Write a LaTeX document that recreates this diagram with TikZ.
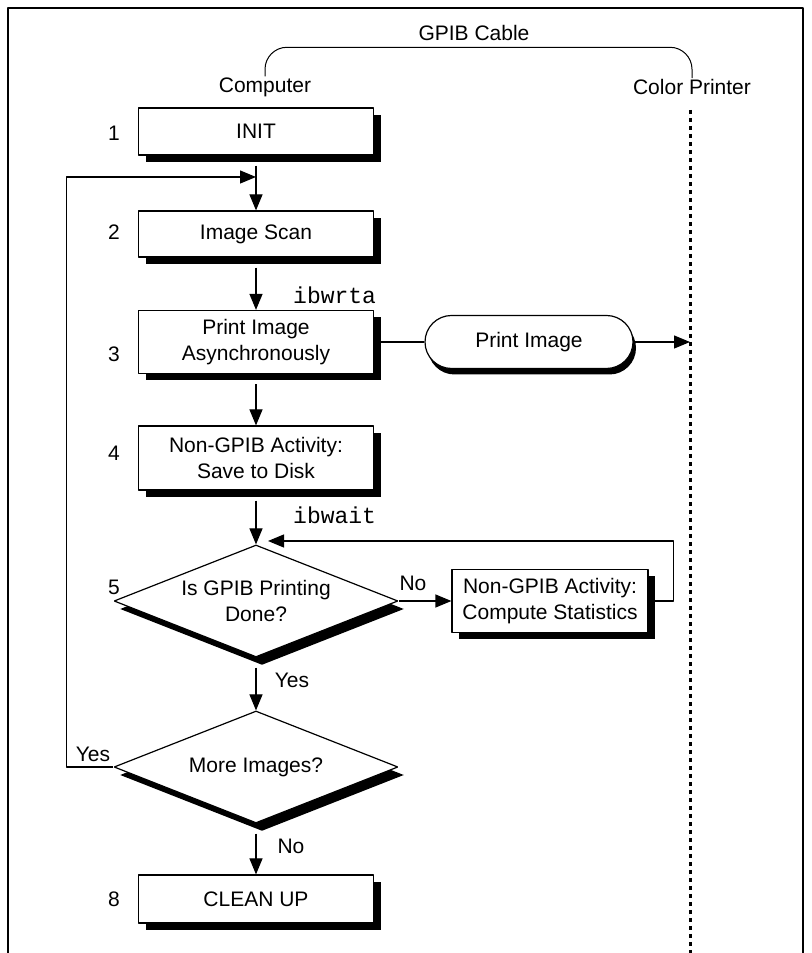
\documentclass[tikz,border=0pt]{standalone}
\usepackage{fontspec}
\setmainfont{Liberation Sans}
\setmonofont{Liberation Mono}
\usetikzlibrary{arrows.meta,shapes.geometric,shapes.misc,shadows}

\tikzset{
  stepbox/.style={draw, fill=white, line width=1.2bp, minimum width=235bp, inner sep=0pt, align=center,
    font=\fontsize{21bp}{26bp}\selectfont,
    drop shadow={shadow xshift=7bp, shadow yshift=-7bp, fill=black, opacity=1}},
  termbox/.style={rounded rectangle, draw, fill=white, line width=1.2bp, minimum width=208bp, minimum height=53bp,
    inner sep=0pt, font=\fontsize{21bp}{26bp}\selectfont,
    drop shadow={shadow xshift=3bp, shadow yshift=-6bp, fill=black, opacity=1}},
  testbox/.style={diamond, aspect=2.54, draw, fill=white, line width=1.2bp, minimum width=284bp, minimum height=112bp,
    inner sep=0pt, align=center, font=\fontsize{21bp}{26bp}\selectfont,
    drop shadow={shadow xshift=6bp, shadow yshift=-8bp, fill=black, opacity=1}},
  tag/.style={font=\fontsize{21bp}{26bp}\selectfont, inner sep=1bp},
  call/.style={font=\fontsize{23bp}{26bp}\ttfamily, anchor=west, inner sep=0pt},
  flow/.style={->, line width=1.2bp},
}

\begin{document}
\begin{tikzpicture}[>={Triangle[length=16bp,width=13bp]},line join=bevel,]
  \useasboundingbox (0bp,0bp) rectangle (812bp,953bp);
  \draw [line width=2bp] (8bp,0bp) -- (8bp,945bp) -- (803bp,945bp) -- (803bp,0bp);
  % Node: cable
  \node (cable) [tag] at (474bp,920bp) {GPIB Cable};
  \node (computer) [tag] at (265bp,866bp) {Computer};
  \node (printer) [tag] at (692bp,866bp) {Color Printer};
  \coordinate (ptop) at (690bp,843bp);
  \coordinate (pbot) at (690bp,0bp);
  \coordinate (merge) at (256bp,776bp);
  \coordinate (back) at (268bp,412bp);
  % Node: init
  \node (init) [stepbox, minimum height=47bp] at (256bp,821.5bp) {INIT};
  \node (n1) [tag] at (114bp,820bp) {1};
  % Node: scan
  \node (scan) [stepbox, minimum height=46bp] at (256bp,719bp) {Image Scan};
  \node (n2) [tag] at (114bp,721bp) {2};
  % Node: async
  \node (async) [stepbox, minimum height=63bp] at (256bp,611bp) {Print Image\\Asynchronously};
  \node (n3) [tag] at (114bp,599bp) {3};
  % Node: term
  \node (term) [termbox] at (529bp,611bp) {Print Image};
  % Node: disk
  \node (disk) [stepbox, minimum height=64bp] at (256bp,495bp) {Non-GPIB Activity:\\Save to Disk};
  \node (n4) [tag] at (114bp,500bp) {4};
  % Node: done
  \node (done) [testbox] at (256bp,352bp) {Is GPIB Printing\\Done?};
  \node (n5) [tag] at (114bp,366bp) {5};
  % Node: stats
  \node (stats) [stepbox, minimum width=196bp, minimum height=63bp] at (550bp,352bp) {Non-GPIB Activity:\\Compute Statistics};
  % Node: more
  \node (more) [testbox] at (256bp,186bp) {More Images?};
  % Node: clean
  \node (clean) [stepbox, minimum height=48bp] at (256bp,54bp) {CLEAN UP};
  \node (n8) [tag] at (114bp,54bp) {8};
  % Edge: computer -> printer
  \draw [line width=1bp, rounded corners=22bp] (computer.north) -- ++(0bp,29bp) -| (printer.north);
  \draw [line width=3bp, dash pattern=on 4bp off 4bp] (ptop) -- (pbot);
  % Edge: init -> scan
  \draw [flow] ([yshift=-10bp]init.south) -- (scan.north);
  % Edge: more -> scan
  \draw [flow] (more.west) -- ++(-47bp,0bp) |- (merge);
  \node (yes2) [tag] at (93bp,199bp) {Yes};
  % Edge: scan -> async
  \draw [flow] ([yshift=-10bp]scan.south) -- (async.north);
  \node (wrta) [call] at (293bp,658bp) {ibwrta};
  % Edge: async -> term
  \draw [line width=1.2bp] (async.east) -- (term.west);
  % Edge: term -> printer
  \draw [flow] (term.east) -- (term.east -| ptop);
  % Edge: async -> disk
  \draw [flow] ([yshift=-10bp]async.south) -- (disk.north);
  % Edge: disk -> done
  \draw [flow] ([yshift=-10bp]disk.south) -- (done.north);
  \node (wait) [call] at (293bp,438bp) {ibwait};
  % Edge: done -> stats
  \draw [flow] (done.east) -- (stats.west);
  \node (no1) [tag] at (413bp,370bp) {No};
  % Edge: stats -> done
  \draw [flow] (stats.east) -- ++(25bp,0bp) |- (back);
  % Edge: done -> more
  \draw [flow] ([yshift=-10bp]done.south) -- (more.north);
  \node (yes1) [tag] at (292bp,273bp) {Yes};
  % Edge: more -> clean
  \draw [flow] ([yshift=-10bp]more.south) -- (clean.north);
  \node (no2) [tag] at (291bp,107bp) {No};
%
\end{tikzpicture}
\end{document}
